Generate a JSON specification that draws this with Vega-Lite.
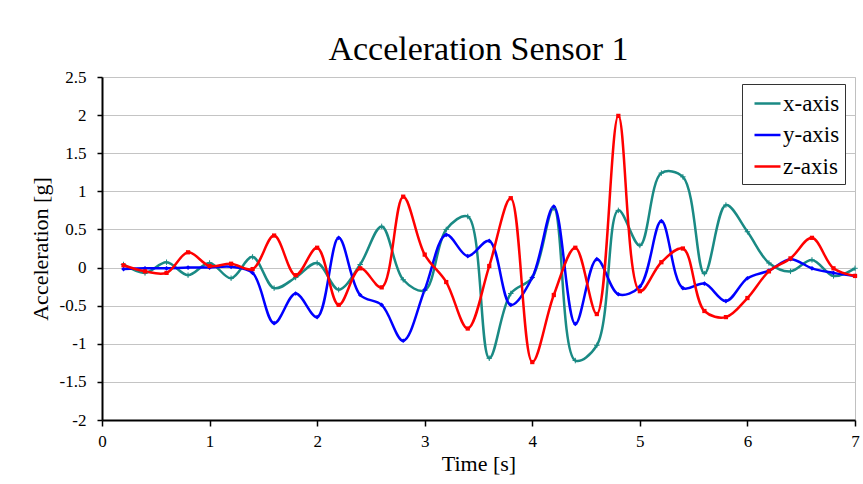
{
  "$schema": "https://vega.github.io/schema/vega-lite/v6.json",
  "width": 753,
  "height": 343,
  "autosize": {"type": "none"},
  "padding": {"left": 102, "top": 77, "right": 8, "bottom": 64},
  "background": "white",
  "config": {
    "font": "'Liberation Serif', 'DejaVu Serif', serif",
    "view": {"stroke": "#c0c0c0", "strokeWidth": 1}
  },
  "title": {
    "text": "Acceleration Sensor 1",
    "font": "'Liberation Serif', 'DejaVu Serif', serif",
    "fontSize": 34,
    "fontWeight": "normal",
    "color": "black",
    "anchor": "middle",
    "frame": "group",
    "baseline": "alphabetic",
    "offset": -26
  },
  "data": {
    "values": [
      {"t": 0.2, "series": "x-axis", "value": 0.04}, {"t": 0.2, "series": "y-axis", "value": -0.02}, {"t": 0.2, "series": "z-axis", "value": 0.03},
      {"t": 0.4, "series": "x-axis", "value": -0.07}, {"t": 0.4, "series": "y-axis", "value": -0.01}, {"t": 0.4, "series": "z-axis", "value": -0.05},
      {"t": 0.6, "series": "x-axis", "value": 0.07}, {"t": 0.6, "series": "y-axis", "value": -0.01}, {"t": 0.6, "series": "z-axis", "value": -0.07},
      {"t": 0.8, "series": "x-axis", "value": -0.10}, {"t": 0.8, "series": "y-axis", "value": 0.0}, {"t": 0.8, "series": "z-axis", "value": 0.20},
      {"t": 1.0, "series": "x-axis", "value": 0.06}, {"t": 1.0, "series": "y-axis", "value": 0.0}, {"t": 1.0, "series": "z-axis", "value": 0.02},
      {"t": 1.2, "series": "x-axis", "value": -0.14}, {"t": 1.2, "series": "y-axis", "value": 0.01}, {"t": 1.2, "series": "z-axis", "value": 0.05},
      {"t": 1.4, "series": "x-axis", "value": 0.14}, {"t": 1.4, "series": "y-axis", "value": -0.07}, {"t": 1.4, "series": "z-axis", "value": -0.02},
      {"t": 1.6, "series": "x-axis", "value": -0.27}, {"t": 1.6, "series": "y-axis", "value": -0.73}, {"t": 1.6, "series": "z-axis", "value": 0.42},
      {"t": 1.8, "series": "x-axis", "value": -0.13}, {"t": 1.8, "series": "y-axis", "value": -0.34}, {"t": 1.8, "series": "z-axis", "value": -0.10},
      {"t": 2.0, "series": "x-axis", "value": 0.06}, {"t": 2.0, "series": "y-axis", "value": -0.65}, {"t": 2.0, "series": "z-axis", "value": 0.26},
      {"t": 2.2, "series": "x-axis", "value": -0.29}, {"t": 2.2, "series": "y-axis", "value": 0.39}, {"t": 2.2, "series": "z-axis", "value": -0.49},
      {"t": 2.4, "series": "x-axis", "value": 0.04}, {"t": 2.4, "series": "y-axis", "value": -0.36}, {"t": 2.4, "series": "z-axis", "value": -0.01},
      {"t": 2.6, "series": "x-axis", "value": 0.54}, {"t": 2.6, "series": "y-axis", "value": -0.49}, {"t": 2.6, "series": "z-axis", "value": -0.26},
      {"t": 2.8, "series": "x-axis", "value": -0.16}, {"t": 2.8, "series": "y-axis", "value": -0.96}, {"t": 2.8, "series": "z-axis", "value": 0.93},
      {"t": 3.0, "series": "x-axis", "value": -0.30}, {"t": 3.0, "series": "y-axis", "value": -0.29}, {"t": 3.0, "series": "z-axis", "value": 0.17},
      {"t": 3.2, "series": "x-axis", "value": 0.50}, {"t": 3.2, "series": "y-axis", "value": 0.43}, {"t": 3.2, "series": "z-axis", "value": -0.19},
      {"t": 3.4, "series": "x-axis", "value": 0.67}, {"t": 3.4, "series": "y-axis", "value": 0.15}, {"t": 3.4, "series": "z-axis", "value": -0.80},
      {"t": 3.6, "series": "x-axis", "value": -1.19}, {"t": 3.6, "series": "y-axis", "value": 0.35}, {"t": 3.6, "series": "z-axis", "value": 0.02},
      {"t": 3.8, "series": "x-axis", "value": -0.34}, {"t": 3.8, "series": "y-axis", "value": -0.49}, {"t": 3.8, "series": "z-axis", "value": 0.91},
      {"t": 4.0, "series": "x-axis", "value": -0.13}, {"t": 4.0, "series": "y-axis", "value": -0.13}, {"t": 4.0, "series": "z-axis", "value": -1.24},
      {"t": 4.2, "series": "x-axis", "value": 0.78}, {"t": 4.2, "series": "y-axis", "value": 0.80}, {"t": 4.2, "series": "z-axis", "value": -0.36},
      {"t": 4.4, "series": "x-axis", "value": -1.22}, {"t": 4.4, "series": "y-axis", "value": -0.74}, {"t": 4.4, "series": "z-axis", "value": 0.26},
      {"t": 4.6, "series": "x-axis", "value": -1.02}, {"t": 4.6, "series": "y-axis", "value": 0.11}, {"t": 4.6, "series": "z-axis", "value": -0.61},
      {"t": 4.8, "series": "x-axis", "value": 0.75}, {"t": 4.8, "series": "y-axis", "value": -0.35}, {"t": 4.8, "series": "z-axis", "value": 1.99},
      {"t": 5.0, "series": "x-axis", "value": 0.29}, {"t": 5.0, "series": "y-axis", "value": -0.25}, {"t": 5.0, "series": "z-axis", "value": -0.31},
      {"t": 5.2, "series": "x-axis", "value": 1.24}, {"t": 5.2, "series": "y-axis", "value": 0.61}, {"t": 5.2, "series": "z-axis", "value": 0.07},
      {"t": 5.4, "series": "x-axis", "value": 1.19}, {"t": 5.4, "series": "y-axis", "value": -0.27}, {"t": 5.4, "series": "z-axis", "value": 0.25},
      {"t": 5.6, "series": "x-axis", "value": -0.08}, {"t": 5.6, "series": "y-axis", "value": -0.21}, {"t": 5.6, "series": "z-axis", "value": -0.57},
      {"t": 5.8, "series": "x-axis", "value": 0.82}, {"t": 5.8, "series": "y-axis", "value": -0.44}, {"t": 5.8, "series": "z-axis", "value": -0.65},
      {"t": 6.0, "series": "x-axis", "value": 0.47}, {"t": 6.0, "series": "y-axis", "value": -0.14}, {"t": 6.0, "series": "z-axis", "value": -0.40},
      {"t": 6.2, "series": "x-axis", "value": 0.06}, {"t": 6.2, "series": "y-axis", "value": -0.04}, {"t": 6.2, "series": "z-axis", "value": -0.05},
      {"t": 6.4, "series": "x-axis", "value": -0.05}, {"t": 6.4, "series": "y-axis", "value": 0.11}, {"t": 6.4, "series": "z-axis", "value": 0.12},
      {"t": 6.6, "series": "x-axis", "value": 0.10}, {"t": 6.6, "series": "y-axis", "value": -0.01}, {"t": 6.6, "series": "z-axis", "value": 0.39},
      {"t": 6.8, "series": "x-axis", "value": -0.11}, {"t": 6.8, "series": "y-axis", "value": -0.07}, {"t": 6.8, "series": "z-axis", "value": -0.01},
      {"t": 7.0, "series": "x-axis", "value": -0.01}, {"t": 7.0, "series": "y-axis", "value": -0.11}, {"t": 7.0, "series": "z-axis", "value": -0.11}
    ]
  },
  "encoding": {
    "x": {
      "field": "t",
      "type": "quantitative",
      "scale": {"domain": [0, 7], "nice": false, "zero": false},
      "axis": {
        "title": "Time [s]",
        "values": [0, 1, 2, 3, 4, 5, 6, 7],
        "grid": false,
        "labelFlush": false,
        "labelOverlap": false,
        "domainColor": "black",
        "domainWidth": 2,
        "tickColor": "black",
        "tickWidth": 1.5,
        "tickSize": 6,
        "labelFontSize": 17,
        "labelColor": "black",
        "labelPadding": 7,
        "titleFontSize": 22,
        "titleFontWeight": "normal",
        "titleColor": "black",
        "titlePadding": 4
      }
    },
    "y": {
      "field": "value",
      "type": "quantitative",
      "scale": {"domain": [-2, 2.5], "nice": false, "zero": false},
      "axis": {
        "title": "Acceleration [g]",
        "values": [-2, -1.5, -1, -0.5, 0, 0.5, 1, 1.5, 2, 2.5],
        "labelExpr": "toString(datum.value)",
        "grid": true,
        "gridColor": "#c4c4c4",
        "gridWidth": 1,
        "labelFlush": false,
        "labelOverlap": false,
        "domainColor": "black",
        "domainWidth": 2,
        "tickColor": "black",
        "tickWidth": 1.5,
        "tickSize": 5,
        "labelFontSize": 17,
        "labelColor": "black",
        "labelPadding": 11,
        "titleFontSize": 22,
        "titleFontWeight": "normal",
        "titleColor": "black",
        "titlePadding": 7
      }
    },
    "color": {
      "field": "series",
      "type": "nominal",
      "scale": {"domain": ["x-axis", "y-axis", "z-axis"], "range": ["#1a8a84", "#0000ff", "#ff0000"]},
      "legend": {
        "title": null,
        "orient": "none",
        "legendX": 640,
        "legendY": 7,
        "symbolType": "stroke",
        "symbolSize": 676,
        "symbolStrokeWidth": 2.5,
        "symbolOffset": 6,
        "labelFontSize": 23,
        "labelColor": "black",
        "labelOffset": 1,
        "strokeColor": "#333333",
        "fillColor": "white",
        "padding": 5,
        "rowPadding": 4.5,
        "cornerRadius": 0
      }
    }
  },
  "layer": [
    {
      "mark": {"type": "line", "interpolate": "catmull-rom", "strokeWidth": 2.5}
    },
    {
      "transform": [{"filter": "datum.series === 'x-axis'"}],
      "mark": {"type": "point", "shape": "M-1,0L1,0M0,-1L0,1", "size": 30, "strokeWidth": 1, "opacity": 1, "filled": false}
    },
    {
      "transform": [{"filter": "datum.series === 'y-axis'"}],
      "mark": {"type": "point", "shape": "diamond", "size": 22, "opacity": 1, "filled": true}
    },
    {
      "transform": [{"filter": "datum.series === 'z-axis'"}],
      "mark": {"type": "point", "shape": "square", "size": 18, "opacity": 1, "filled": true}
    }
  ]
}
